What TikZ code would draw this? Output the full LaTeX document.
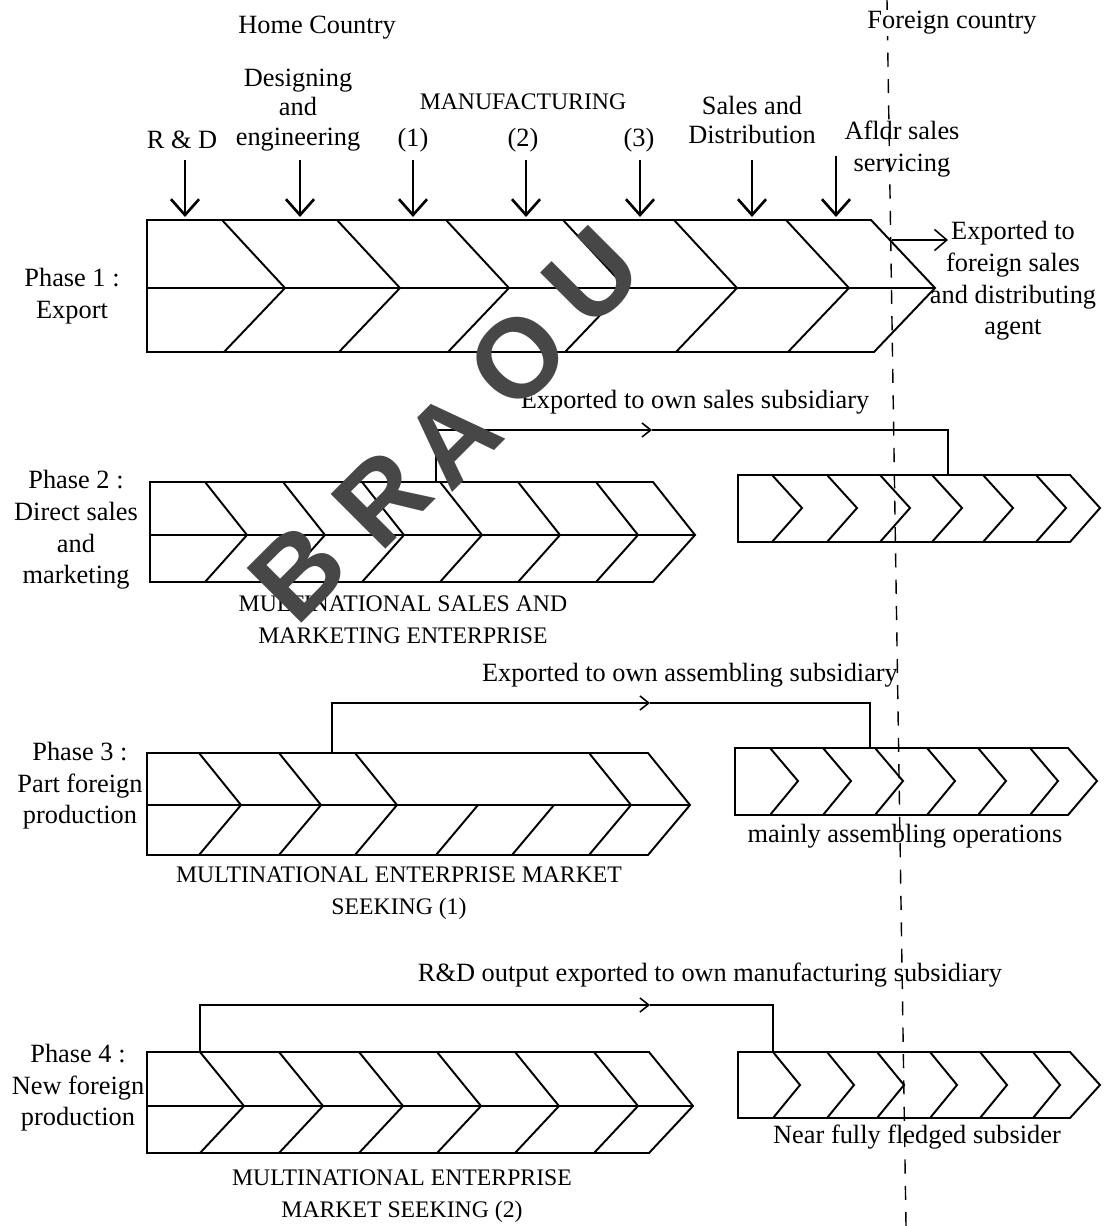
\documentclass[tikz,border=0pt]{standalone}
\usepackage{fontspec}
\setmainfont{Liberation Serif}
\newfontfamily\wmfont{Liberation Sans Bold}
\usetikzlibrary{arrows.meta}

\begin{document}
\begin{tikzpicture}[x=0.02cm,y=-0.02cm,
  band/.style={line width=1.1pt,line join=miter},
  txt/.style={font=\fontsize{15}{18}\selectfont,align=center,inner sep=1pt},
  caps/.style={font=\fontsize{13.5}{18}\selectfont,align=center,inner sep=1pt},
  stage/.style={line width=1.1pt,-{Straight Barb[length=9pt,width=16pt,line width=1.5pt]}},
  link/.style={line width=0.9pt},
  linktip/.style={link,-{Straight Barb[length=5pt,width=8pt]}},
  border/.style={line width=0.8pt,dash pattern=on 8pt off 7pt},
  wmark/.style={font=\wmfont\fontsize{64}{64}\selectfont,text=black!72,rotate=45,inner sep=0pt}]
\useasboundingbox (0,0) rectangle (1110,1226);

% home / foreign border
\draw[border] (887,0) -- (906,1226);
\node[txt] (home) at (317,28) {Home Country};
\node[txt,fill=white] (foreign) at (952,23) {Foreign country};

% value chain stages
\node[txt] (rd) at (182,140) {R \& D};
\node[txt,font=\fontsize{15}{17}\selectfont] (design) at (298,110) {Designing\\and\\engineering};
\node[caps] (manu) at (523,102) {MANUFACTURING};
\node[txt] (m1) at (413,140) {(1)};
\node[txt] (m2) at (523,140) {(2)};
\node[txt] (m3) at (639,140) {(3)};
\node[txt,font=\fontsize{15}{17}\selectfont] (sales) at (752,120) {Sales and\\Distribution};
\node[txt] (after) at (902,149) {Afldr sales\\servicing};
\coordinate (top1) at (0,217);
\coordinate (t1) at (185,160);
\coordinate (t2) at (300,160);
\coordinate (t3) at (413,160);
\coordinate (t4) at (526,160);
\coordinate (t5) at (640,160);
\coordinate (t6) at (752,160);
\coordinate (t7) at (836,156);
\draw[stage] (t1) -- (t1 |- top1);
\draw[stage] (t2) -- (t2 |- top1);
\draw[stage] (t3) -- (t3 |- top1);
\draw[stage] (t4) -- (t4 |- top1);
\draw[stage] (t5) -- (t5 |- top1);
\draw[stage] (t6) -- (t6 |- top1);
\draw[stage] (t7) -- (t7 |- top1);

% phase 1
\node[txt] (ph1) at (72,296) {Phase 1 :\\Export};
\draw[band] (147,220) -- (871,220) -- (935,288) -- (874,352) -- (147,352) -- cycle;
\draw[band] (147,288) -- (935,288);
\draw[band] (222,220) -- (285,288) -- (224,352);
\draw[band] (337,220) -- (400,288) -- (339,352);
\draw[band] (446,220) -- (509,288) -- (448,352);
\draw[band] (563,220) -- (626,288) -- (565,352);
\draw[band] (674,220) -- (737,288) -- (676,352);
\draw[band] (786,220) -- (849,288) -- (788,352);
\node[txt] (exp1) at (1013,281) {Exported to\\foreign sales\\and distributing\\agent};
\coordinate (ex1a) at (892,240);
\coordinate (ex1b) at (948,240);
\draw[link,-{Straight Barb[length=7pt,width=12pt]}] (ex1a) -- (ex1b);

% phase 2
\node[txt] (ph2) at (76,530) {Phase 2 :\\Direct sales\\and\\marketing};
\draw[band] (150,482) -- (653,482) -- (695,535) -- (653,582) -- (150,582) -- cycle;
\draw[band] (150,535) -- (695,535);
\draw[band] (205,482) -- (247,535) -- (205,582);
\draw[band] (283,482) -- (325,535) -- (283,582);
\draw[band] (362,482) -- (404,535) -- (362,582);
\draw[band] (440,482) -- (482,535) -- (440,582);
\draw[band] (518,482) -- (560,535) -- (518,582);
\draw[band] (596,482) -- (638,535) -- (596,582);
\draw[band] (738,475) -- (1070,475) -- (1100,508) -- (1070,542) -- (738,542) -- cycle;
\draw[band] (772,475) -- (802,508) -- (772,542);
\draw[band] (827,475) -- (857,508) -- (827,542);
\draw[band] (880,475) -- (910,508) -- (880,542);
\draw[band] (932,475) -- (962,508) -- (932,542);
\draw[band] (983,475) -- (1013,508) -- (983,542);
\draw[band] (1036,475) -- (1066,508) -- (1036,542);
\node[caps] (ent2) at (403,620) {MULTINATIONAL SALES AND\\MARKETING ENTERPRISE};
\node[txt] (exp2) at (695,402) {Exported to own sales subsidiary};
\coordinate (l2a) at (436,482);
\coordinate (l2m) at (652,430);
\coordinate (l2b) at (948,475);
\draw[linktip] (l2a) |- (l2m);
\draw[link] (l2m) -| (l2b);

% phase 3
\node[txt] (ph3) at (80,786) {Phase 3 :\\Part foreign\\production};
\draw[band] (147,753) -- (648,753) -- (690,805) -- (648,855) -- (147,855) -- cycle;
\draw[band] (147,805) -- (690,805);
\draw[band] (199,753) -- (241,805) -- (199,855);
\draw[band] (279,753) -- (321,805) -- (279,855);
\draw[band] (355,753) -- (397,805) -- (355,855);
\draw[band] (478,805) -- (436,855);
\draw[band] (554,805) -- (512,855);
\draw[band] (589,753) -- (631,805) -- (589,855);
\draw[band] (735,748) -- (1068,748) -- (1097,781) -- (1068,815) -- (735,815) -- cycle;
\draw[band] (770,748) -- (798,781) -- (770,815);
\draw[band] (823,748) -- (851,781) -- (823,815);
\draw[band] (875,748) -- (903,781) -- (875,815);
\draw[band] (927,748) -- (955,781) -- (927,815);
\draw[band] (978,748) -- (1006,781) -- (978,815);
\draw[band] (1030,748) -- (1058,781) -- (1030,815);
\node[caps] (ent3) at (399,893) {MULTINATIONAL ENTERPRISE MARKET\\SEEKING (1)};
\node[txt] (exp3) at (690,675) {Exported to own assembling subsidiary};
\node[txt] (sub3) at (905,836) {mainly assembling operations};
\coordinate (l3a) at (332,753);
\coordinate (l3m) at (650,703);
\coordinate (l3b) at (870,748);
\draw[linktip] (l3a) |- (l3m);
\draw[link] (l3m) -| (l3b);

% phase 4
\node[txt] (ph4) at (78,1088) {Phase 4 :\\New foreign\\production};
\draw[band] (147,1052) -- (649,1052) -- (693,1106) -- (649,1153) -- (147,1153) -- cycle;
\draw[band] (147,1106) -- (693,1106);
\draw[band] (200,1052) -- (244,1106) -- (200,1153);
\draw[band] (279,1052) -- (323,1106) -- (279,1153);
\draw[band] (359,1052) -- (403,1106) -- (359,1153);
\draw[band] (437,1052) -- (481,1106) -- (437,1153);
\draw[band] (515,1052) -- (559,1106) -- (515,1153);
\draw[band] (594,1052) -- (638,1106) -- (594,1153);
\draw[band] (738,1052) -- (1070,1052) -- (1100,1085) -- (1070,1118) -- (738,1118) -- cycle;
\draw[band] (773,1052) -- (800,1085) -- (773,1118);
\draw[band] (827,1052) -- (854,1085) -- (827,1118);
\draw[band] (877,1052) -- (904,1085) -- (877,1118);
\draw[band] (930,1052) -- (957,1085) -- (930,1118);
\draw[band] (980,1052) -- (1007,1085) -- (980,1118);
\draw[band] (1033,1052) -- (1060,1085) -- (1033,1118);
\node[caps] (ent4) at (402,1196) {MULTINATIONAL ENTERPRISE\\MARKET SEEKING (2)};
\node[txt] (exp4) at (710,975) {R\&D output exported to own manufacturing subsidiary};
\node[txt] (sub4) at (917,1137) {Near fully fledged subsider};
\coordinate (l4a) at (200,1052);
\coordinate (l4m) at (650,1005);
\coordinate (l4b) at (773,1052);
\draw[linktip] (l4a) |- (l4m);
\draw[link] (l4m) -| (l4b);

% watermark
\node[wmark] (wmb) at (298,572) {B};
\node[wmark] (wmr) at (382,498) {R};
\node[wmark] (wma) at (452,438) {A};
\node[wmark] (wmo) at (518,358) {O};
\node[wmark] (wmu) at (592,277) {U};
\end{tikzpicture}
\end{document}
